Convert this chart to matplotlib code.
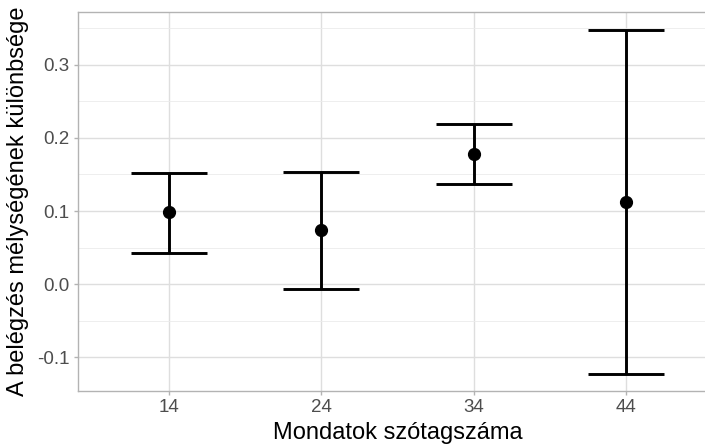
import numpy as np
import matplotlib.pyplot as plt

plt.rcParams['font.family'] = ['Liberation Sans', 'DejaVu Sans']

# Adatok
kategoriak = ['14', '24', '34', '44']
kozep = [0.098, 0.074, 0.178, 0.112]
also = [0.042, -0.006, 0.137, -0.123]
felso = [0.152, 0.154, 0.219, 0.348]

W, H = 705, 446
fig = plt.figure(figsize=(W / 100, H / 100), dpi=100)
# panel: bal 78px, felső 12px, alsó 391px, jobb szél túllóg a képen
ax = fig.add_axes([78 / W, (H - 391) / H, (717 - 78) / W, (391 - 12) / H])

x = np.arange(1, len(kategoriak) + 1)
kozep = np.array(kozep)
yerr = np.vstack([kozep - np.array(also), np.array(felso) - kozep])

ax.errorbar(x, kozep, yerr=yerr, fmt='none', ecolor='black', elinewidth=2.1,
            capsize=27.5, capthick=2.1, zorder=3)
ax.plot(x, kozep, 'o', color='black', markersize=8.5, zorder=4)

ax.set_xlim(0.4, 4.6)
ax.set_ylim(-0.146, 0.372)
ax.set_xticks(x)
ax.set_xticklabels(kategoriak)
ax.set_yticks([-0.1, 0.0, 0.1, 0.2, 0.3])
ax.set_yticklabels(['-0.1', '0.0', '0.1', '0.2', '0.3'])
ax.set_yticks([-0.05, 0.05, 0.15, 0.25, 0.35], minor=True)

ax.grid(True, which='major', color='#DEDEDE', linewidth=1.0, zorder=0)
ax.grid(True, which='minor', axis='y', color='#EBEBEB', linewidth=0.6, zorder=0)
ax.set_axisbelow(True)

for s in ax.spines.values():
    s.set_color('#B3B3B3')
    s.set_linewidth(1.0)

ax.tick_params(which='major', colors='#B3B3B3', length=3, width=1.0,
               labelcolor='#4D4D4D', labelsize=13.5, pad=3)
ax.tick_params(which='minor', length=0)

ax.set_xlabel('Mondatok szótagszáma', fontsize=17, color='black', labelpad=4)
ax.set_ylabel('A belégzés mélységének különbsége', fontsize=17, color='black', labelpad=6)

fig.savefig('out.png', dpi=100)
